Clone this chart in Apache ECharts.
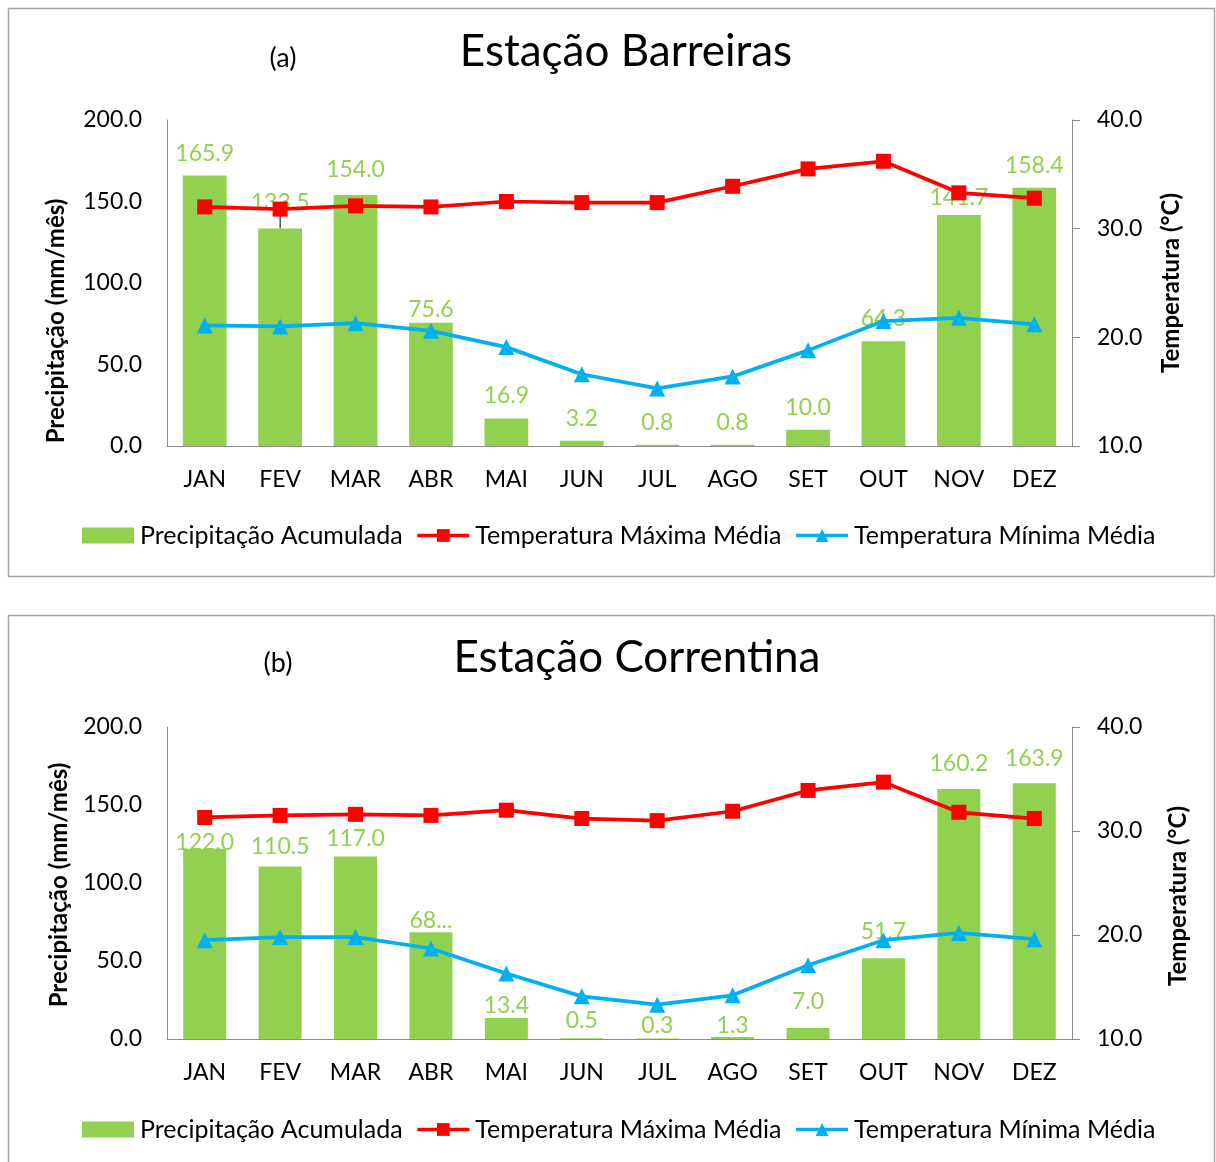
<!DOCTYPE html>
<html>
<head>
<meta charset="utf-8">
<script src="https://cdn.jsdelivr.net/npm/echarts@6/dist/echarts.min.js"></script>
<style>
  html, body { margin: 0; padding: 0; background: #ffffff; }
  #chart { width: 1216px; height: 1162px; }
</style>
</head>
<body>
<div id="chart"></div>
<script>
// Monthly climate normals for two stations
const months = ['JAN', 'FEV', 'MAR', 'ABR', 'MAI', 'JUN', 'JUL', 'AGO', 'SET', 'OUT', 'NOV', 'DEZ'];

// Estação Barreiras
const precipBarreiras = [165.9, 133.5, 154.0, 75.6, 16.9, 3.2, 0.8, 0.8, 10.0, 64.3, 141.7, 158.4];
const tmaxBarreiras   = [32.0, 31.8, 32.1, 32.0, 32.5, 32.4, 32.4, 33.9, 35.5, 36.2, 33.3, 32.8];
const tminBarreiras   = [21.1, 21.0, 21.3, 20.6, 19.1, 16.6, 15.3, 16.4, 18.8, 21.5, 21.8, 21.2];

// Estação Correntina
const precipCorrentina = [122.0, 110.5, 117.0, 68.4, 13.4, 0.5, 0.3, 1.3, 7.0, 51.7, 160.2, 163.9];
const tmaxCorrentina   = [31.3, 31.5, 31.6, 31.5, 32.0, 31.2, 31.0, 31.9, 33.9, 34.7, 31.8, 31.2];
const tminCorrentina   = [19.5, 19.8, 19.8, 18.7, 16.3, 14.1, 13.3, 14.2, 17.1, 19.5, 20.2, 19.6];

// Axis scales
const precipAxis = { min: 0, max: 200, interval: 50 };
const tempAxis   = { min: 10, max: 40, interval: 10 };

const seriesNames = ['Precipitação Acumulada', 'Temperatura Máxima Média', 'Temperatura Mínima Média'];

const FONT = 'Lato, "Open Sans", sans-serif';
const GREEN = '#92D050';
const RED = '#FF0000';
const BLUE = '#00B0F0';
const AXIS_GREY = '#8C8C8C';
const FRAME_GREY = '#A6A6A6';

const panels = [
  {
    letter: '(a)', title: 'Estação Barreiras',
    precip: precipBarreiras, tmax: tmaxBarreiras, tmin: tminBarreiras,
    frame: { x: 8.5, y: 8.5, width: 1206, height: 568 },
    grid: { left: 167, top: 120, width: 905, height: 326 },
    titlePos: [626, 52], letterPos: [283, 58],
    leftName: [56, 321], rightName: [1171, 283],
    legendTop: 523, barGap: '42%',
    // vertical nudges of individual value labels (px)
    labelShift: [0, -3, -3, 9, 0, 0, 0, 0, 0, 0, 5, 0],
    leaderAt: [1],
    labelText: {}
  },
  {
    letter: '(b)', title: 'Estação Correntina',
    precip: precipCorrentina, tmax: tmaxCorrentina, tmin: tminCorrentina,
    frame: { x: 8.5, y: 615.5, width: 1206, height: 600 },
    grid: { left: 167, top: 727, width: 905, height: 312 },
    titlePos: [637, 658], letterPos: [278, 663],
    leftName: [59, 885], rightName: [1178, 896],
    legendTop: 1117, barGap: '43%',
    labelShift: [16, 2, 5, 11, 10, 5, 10, 11, -4, -4, -3, -2],
    leaderAt: [],
    labelText: { 3: '68...' }
  }
];

const grids = [], xAxes = [], yAxes = [], series = [], legends = [], graphics = [];

panels.forEach((p, i) => {
  grids.push({ left: p.grid.left, top: p.grid.top, width: p.grid.width, height: p.grid.height, containLabel: false });

  xAxes.push({
    type: 'category', gridIndex: i, data: months, boundaryGap: true,
    axisLine: { show: true, lineStyle: { color: AXIS_GREY, width: 1 } },
    axisTick: { show: false },
    axisLabel: { color: '#000', fontSize: 23, fontFamily: FONT, margin: 22, interval: 0 },
    splitLine: { show: false }
  });

  yAxes.push({
    type: 'value', gridIndex: i, position: 'left',
    min: precipAxis.min, max: precipAxis.max, interval: precipAxis.interval,
    axisLine: { show: true, lineStyle: { color: AXIS_GREY, width: 1 } },
    axisTick: { show: false },
    axisLabel: { color: '#000', fontSize: 23, fontFamily: FONT, margin: 25, formatter: v => v.toFixed(1) },
    splitLine: { show: false }
  });
  yAxes.push({
    type: 'value', gridIndex: i, position: 'right',
    min: tempAxis.min, max: tempAxis.max, interval: tempAxis.interval,
    axisLine: { show: true, lineStyle: { color: AXIS_GREY, width: 1 } },
    axisTick: { show: true, inside: false, length: 8, lineStyle: { color: AXIS_GREY, width: 1 } },
    axisLabel: { color: '#000', fontSize: 23, fontFamily: FONT, margin: 25, formatter: v => v.toFixed(1) },
    splitLine: { show: false }
  });

  const barData = p.precip.map((v, k) => {
    const item = { value: v };
    if (p.leaderAt.includes(k)) {
      item.labelLine = { show: true, lineStyle: { color: '#000', width: 1 } };
    }
    return item;
  });

  series.push({
    name: seriesNames[0], type: 'bar', xAxisIndex: i, yAxisIndex: 2 * i,
    data: barData, barCategoryGap: p.barGap,
    itemStyle: { color: GREEN },
    label: {
      show: true, position: 'top', distance: 11, color: GREEN,
      fontSize: 23, fontFamily: FONT,
      formatter: prm => (p.labelText[prm.dataIndex] !== undefined ? p.labelText[prm.dataIndex] : Number(prm.value).toFixed(1))
    },
    labelLayout: prm => ({ dy: p.labelShift[prm.dataIndex] || 0 }),
    z: 2
  });
  series.push({
    name: seriesNames[1], type: 'line', xAxisIndex: i, yAxisIndex: 2 * i + 1,
    data: p.tmax, symbol: 'rect', symbolSize: 15,
    lineStyle: { color: RED, width: 3.75 }, itemStyle: { color: RED },
    showAllSymbol: true, z: 3
  });
  series.push({
    name: seriesNames[2], type: 'line', xAxisIndex: i, yAxisIndex: 2 * i + 1,
    data: p.tmin, symbol: 'triangle', symbolSize: 16,
    lineStyle: { color: BLUE, width: 3.75 }, itemStyle: { color: BLUE },
    showAllSymbol: true, z: 3
  });

  legends.push({
    left: 82, top: p.legendTop, orient: 'horizontal', padding: 0,
    itemWidth: 52, itemHeight: 16, itemGap: 13,
    selectedMode: false,
    lineStyle: { width: 3.5 },
    textStyle: { color: '#000', fontSize: 25, fontFamily: FONT, padding: [0, 0, 0, 1] },
    data: [
      { name: seriesNames[0], icon: 'rect' },
      { name: seriesNames[1] },
      { name: seriesNames[2] }
    ]
  });

  graphics.push(
    { type: 'rect', shape: p.frame, style: { fill: 'none', stroke: FRAME_GREY, lineWidth: 1.5 }, silent: true, z: -1 },
    { type: 'text', x: p.titlePos[0], y: p.titlePos[1],
      style: { text: p.title, fill: '#000', font: '44px ' + FONT, align: 'center', verticalAlign: 'middle' } },
    { type: 'text', x: p.letterPos[0], y: p.letterPos[1],
      style: { text: p.letter, fill: '#000', font: '27px ' + FONT, align: 'center', verticalAlign: 'middle' } },
    { type: 'text', x: p.leftName[0], y: p.leftName[1], rotation: Math.PI / 2,
      style: { text: 'Precipitação (mm/mês)', fill: '#000', font: 'bold 24px ' + FONT, align: 'center', verticalAlign: 'middle' } },
    { type: 'text', x: p.rightName[0], y: p.rightName[1], rotation: Math.PI / 2,
      style: { text: 'Temperatura (°C)', fill: '#000', font: 'bold 24px ' + FONT, align: 'center', verticalAlign: 'middle' } }
  );
});

const chart = echarts.init(document.getElementById('chart'), null, { renderer: 'canvas' });
chart.setOption({
  backgroundColor: '#ffffff',
  animation: false,
  textStyle: { fontFamily: FONT },
  grid: grids,
  xAxis: xAxes,
  yAxis: yAxes,
  legend: legends,
  series: series,
  graphic: graphics
});
</script>
</body>
</html>
